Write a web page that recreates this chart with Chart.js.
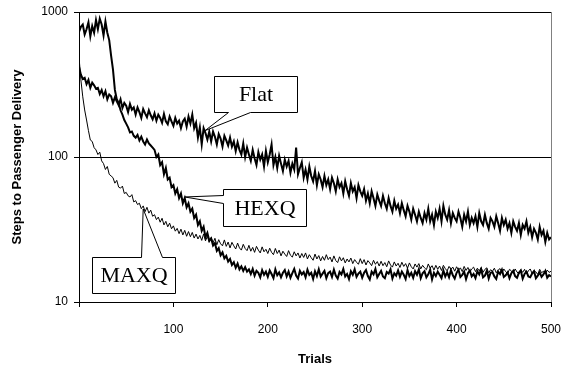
<!DOCTYPE html>
<html>
<head>
<meta charset="utf-8">
<script src="https://cdn.jsdelivr.net/npm/chart.js"></script>
<style>
  body { margin: 0; background: #fff; }
</style>
</head>
<body>
<canvas id="taxiChart" width="571" height="367"></canvas>
<script>
// trials are sampled every 2 steps, 0..500 (251 points per series)
var trials = [];
for (var i = 0; i <= 250; i++) trials.push(i * 2);

var xTicks = [0, 100, 200, 300, 400, 500];
var yTicks = [10, 100, 1000];

var flat = [
  420, 370, 345, 352, 318, 340, 300, 326, 312, 296,
  300, 272, 290, 262, 284, 250, 270, 262, 236, 258,
  242, 228, 250, 218, 236, 226, 204, 232, 212, 220,
  196, 220, 204, 186, 214, 200, 188, 210, 194, 182,
  200, 178, 196, 186, 172, 198, 176, 168, 190, 176,
  164, 186, 170, 178, 158, 176, 184, 162, 190, 170,
  196, 158, 172, 136, 160, 122, 158, 146, 132, 150,
  128, 150, 138, 122, 144, 134, 118, 140, 130, 120,
  136, 118, 128, 110, 126, 112, 104, 124, 100, 116,
  104, 94, 112, 98, 88, 108, 96, 104, 86, 110,
  92, 104, 122, 88, 100, 84, 102, 90, 80, 96,
  86, 94, 78, 90, 82, 116, 76, 84, 92, 72,
  82, 70, 86, 74, 68, 80, 64, 76, 70, 62,
  74, 64, 70, 60, 72, 66, 58, 70, 62, 66,
  56, 68, 60, 54, 66, 58, 62, 52, 64, 58,
  54, 60, 50, 56, 48, 58, 52, 46, 55, 50,
  46, 54, 48, 44, 52, 46, 42, 50, 44, 47,
  41, 48, 43, 39, 46, 42, 37, 44, 40, 36,
  42, 38, 35, 41, 37, 44, 36, 40, 34, 42,
  38, 44, 36, 46, 40, 37, 43, 35, 41, 38,
  36, 42, 38, 33, 40, 36, 42, 34, 38, 35,
  39, 33, 41, 36, 34, 40, 35, 32, 38, 36,
  33, 39, 35, 31, 38, 34, 37, 32, 35, 30,
  36, 33, 31, 35, 29, 34, 32, 36, 30, 33,
  28, 32, 30, 27, 33, 29, 31, 26, 30, 27,
  28];

var hexq = [
  730, 790, 820, 700, 760, 850, 680, 800, 720, 880,
  760, 900, 820, 690, 860, 720, 640, 500, 400, 290,
  250, 236, 210, 196, 180, 170, 160, 148, 150, 140,
  136, 142, 130, 138, 128, 122, 132, 124, 120, 116,
  112, 100, 104, 88, 92, 76, 84, 70, 72, 62,
  64, 56, 60, 52, 56, 48, 52, 45, 48, 42,
  44, 38, 40, 34, 36, 31, 33, 28, 30, 26.5,
  27.5, 24.5, 25.5, 22.5, 23.5, 21, 22, 20, 20.8, 19,
  19.8, 18, 18.8, 17.2, 18.4, 16.8, 17.6, 16.4, 17.4, 16.2,
  16.8, 15.6, 16.9, 15.2, 16.4, 15.9, 14.8, 16.6, 15.4, 16.2,
  14.9, 16.5, 15.6, 14.6, 16.8, 15.3, 16.0, 14.8, 15.9, 16.6,
  15.0, 16.2, 14.7, 15.8, 16.9, 15.2, 14.5, 16.4, 15.5, 16.1,
  14.8, 16.7, 15.4, 15.9, 14.4, 16.3, 15.1, 16.8, 15.0, 15.7,
  16.4, 14.6, 15.8, 16.2, 14.9, 16.7, 15.2, 14.5, 16.1, 15.5,
  16.9, 15.0, 15.6, 14.4, 16.3, 15.4, 16.8, 14.9, 15.7, 16.2,
  14.7, 15.9, 16.6, 15.1, 14.3, 16.2, 15.5, 16.9, 14.8, 15.6,
  16.4, 15.0, 14.6, 16.1, 15.7, 16.8, 14.5, 15.8, 15.2, 16.5,
  14.9, 16.2, 15.4, 14.4, 16.6, 15.1, 15.9, 14.7, 16.3, 15.4,
  16.8, 14.6, 15.8, 16.3, 14.8, 15.5, 16.7, 14.3, 15.9, 15.1,
  16.2, 15.4, 14.6, 16.5, 15.0, 16.0, 14.8, 16.6, 15.3, 14.5,
  15.9, 16.7, 14.9, 15.4, 16.2, 14.4, 15.8, 16.5, 15.0, 15.6,
  14.6, 16.3, 15.5, 16.8, 14.8, 15.2, 16.4, 14.5, 15.9, 16.1,
  15.0, 14.4, 16.2, 15.6, 16.7, 14.9, 15.3, 16.0, 14.6, 15.8,
  16.4, 15.1, 14.7, 15.9, 16.5, 14.5, 15.6, 16.2, 15.0, 14.8,
  15.7, 16.3, 14.6, 15.2, 16.0, 14.9, 15.5, 16.4, 14.7, 15.3,
  15.0];

var maxq = [
  490, 340, 260, 211, 180, 152, 131, 128, 116, 112,
  104, 108, 94, 90, 82, 86, 76, 74, 72, 66,
  69, 62, 61, 63, 56, 57, 54, 53, 55, 49,
  50, 47, 48, 44, 46, 42, 45, 41, 43, 39,
  40, 37, 38.5, 35.5, 37.8, 34, 36, 33, 35, 32,
  33.5, 30.8, 32.2, 29.6, 31.8, 29, 31.2, 28.4, 30.6, 28.2,
  30.2, 27.6, 29.4, 27.2, 28.8, 26.6, 29.5, 26.4, 28.4, 25.8,
  27.8, 25.6, 27.5, 24.8, 26.9, 25.2, 24.4, 26.8, 24.2, 25.9,
  23.6, 25.8, 24.4, 23.2, 25.5, 23.6, 22.8, 25, 23.4, 22.6,
  24.6, 22.4, 23.8, 22, 24.2, 22.8, 21.8, 24, 22.2, 23.1,
  21.6, 23.5, 22, 21.2, 23.4, 21.6, 22.8, 20.8, 22.4, 21.4,
  20.6, 22.6, 21, 20.4, 22.2, 20.8, 21.8, 20.1, 21.6, 20.3,
  21.8, 19.8, 21.2, 20.2, 19.4, 21.4, 19.8, 20.9, 19.2, 20.6,
  19.4, 21.2, 19.6, 20.4, 18.9, 20.8, 19.3, 18.7, 20.5, 19.2,
  20.2, 18.6, 19.8, 18.9, 20.1, 18.4, 19.6, 18.8, 18.2, 19.9,
  18.4, 19.6, 18, 19.3, 18.6, 17.8, 19.4, 18.2, 19, 17.7,
  19.1, 17.8, 18.7, 17.5, 19.2, 18, 17.4, 18.9, 17.7, 18.5,
  17.3, 18.8, 17.6, 18.4, 17.1, 18.6, 17.5, 16.9, 18.3, 17.4,
  18.4, 16.9, 17.9, 17.2, 16.7, 18.3, 17.1, 17.8, 16.6, 17.9,
  16.8, 17.7, 16.5, 17.9, 17, 16.4, 17.6, 16.8, 17.4, 16.3,
  17.5, 16.6, 17.2, 16.2, 17.6, 16.5, 17.3, 16.1, 16.9, 17.4,
  16.2, 17.1, 16.4, 17.3, 16, 16.8, 17.2, 15.9, 16.7, 16.3,
  17.1, 15.9, 16.6, 17, 15.8, 16.9, 16.2, 15.7, 16.8, 16.4,
  15.8, 16.9, 16.1, 15.6, 16.7, 16, 16.8, 15.6, 16.4, 16.9,
  15.7, 16.5, 16.1, 15.5, 16.8, 15.9, 16.3, 15.6, 16.6, 16,
  16.3];

// callout boxes: tip and box centre given in data units
var notes = [
  { text: 'Flat', tip: [133.5, 152], box: [187, 272], w: 83, h: 36, side: 'bottom', base: [14, 36] },
  { text: 'HEXQ', tip: [112, 53], box: [196.5, 44.9], w: 83, h: 37, side: 'left', base: [6, 14] },
  { text: 'MAXQ', tip: [68, 43.8], box: [57.7, 15.4], w: 83, h: 36, side: 'top', base: [49, 70] }
];

function toPoints(arr) {
  return trials.map(function (t, i) { return { x: t, y: arr[i] }; });
}

var calloutPlugin = {
  id: 'callouts',
  afterDatasetsDraw: function (chart) {
    var ctx = chart.ctx;
    var xs = chart.scales.x, ys = chart.scales.y;
    ctx.save();
    notes.forEach(function (n) {
      var tx = xs.getPixelForValue(n.tip[0]);
      var ty = ys.getPixelForValue(n.tip[1]);
      var cx = xs.getPixelForValue(n.box[0]);
      var cy = ys.getPixelForValue(n.box[1]);
      var l = Math.round(cx - n.w / 2) + 0.5, t = Math.round(cy - n.h / 2) + 0.5;
      var r = l + n.w, b = t + n.h;
      ctx.beginPath();
      if (n.side === 'bottom') {
        ctx.moveTo(l, t); ctx.lineTo(r, t); ctx.lineTo(r, b);
        ctx.lineTo(l + n.base[1], b); ctx.lineTo(tx, ty); ctx.lineTo(l + n.base[0], b);
        ctx.lineTo(l, b);
      } else if (n.side === 'left') {
        ctx.moveTo(l, t); ctx.lineTo(r, t); ctx.lineTo(r, b); ctx.lineTo(l, b);
        ctx.lineTo(l, t + n.base[1]); ctx.lineTo(tx, ty); ctx.lineTo(l, t + n.base[0]);
      } else {
        ctx.moveTo(l, t); ctx.lineTo(l + n.base[0], t); ctx.lineTo(tx, ty);
        ctx.lineTo(l + n.base[1], t); ctx.lineTo(r, t); ctx.lineTo(r, b); ctx.lineTo(l, b);
      }
      ctx.closePath();
      ctx.fillStyle = '#fff';
      ctx.fill();
      ctx.strokeStyle = '#000';
      ctx.lineWidth = 1;
      ctx.stroke();
      ctx.fillStyle = '#000';
      ctx.font = '22px "Liberation Serif", "Times New Roman", serif';
      ctx.textAlign = 'center';
      ctx.textBaseline = 'middle';
      ctx.fillText(n.text, (l + r) / 2, (t + b) / 2 + 1);
    });
    ctx.restore();
  }
};

new Chart(document.getElementById('taxiChart'), {
  type: 'line',
  data: {
    datasets: [
      { label: 'Flat', data: toPoints(flat), borderColor: '#000', borderWidth: 2 },
      { label: 'HEXQ', data: toPoints(hexq), borderColor: '#000', borderWidth: 2 },
      { label: 'MAXQ', data: toPoints(maxq), borderColor: '#000', borderWidth: 1 }
    ]
  },
  options: {
    responsive: false,
    animation: false,
    layout: { padding: { top: 12, right: 20, left: 0, bottom: 0 } },
    elements: { point: { radius: 0 }, line: { tension: 0 } },
    plugins: { legend: { display: false }, tooltip: { enabled: false } },
    scales: {
      x: {
        type: 'linear',
        min: 0,
        max: 500,
        afterBuildTicks: function (s) { s.ticks = xTicks.map(function (v) { return { value: v }; }); },
        afterFit: function (s) { s.height = 65; s.paddingLeft = 0; s.paddingRight = 0; },
        ticks: {
          color: '#000',
          padding: 15,
          maxRotation: 0,
          font: { family: '"Liberation Sans", Arial, sans-serif', size: 12 },
          callback: function (v) { return v === 0 ? '' : String(v); }
        },
        grid: {
          color: function (c) { return c.tick && c.tick.value === 500 ? '#808080' : 'rgba(0,0,0,0)'; },
          tickColor: '#000',
          tickLength: 5
        },
        border: { color: '#000', width: 1 },
        title: {
          display: true,
          text: 'Trials',
          color: '#000',
          padding: { top: 0, bottom: 0 },
          font: { family: '"Liberation Sans", Arial, sans-serif', size: 13, weight: 'bold' }
        }
      },
      y: {
        type: 'logarithmic',
        min: 10,
        max: 1000,
        afterBuildTicks: function (s) { s.ticks = yTicks.map(function (v) { return { value: v }; }); },
        afterFit: function (s) { s.width = 79; s.paddingTop = 0; s.paddingBottom = 0; },
        ticks: {
          color: '#000',
          padding: 6,
          font: { family: '"Liberation Sans", Arial, sans-serif', size: 12 },
          callback: function (v) { return String(v); }
        },
        grid: { color: '#000', tickColor: '#000', tickLength: 5 },
        border: { color: '#000', width: 1 },
        title: {
          display: true,
          text: 'Steps to Passenger Delivery',
          color: '#000',
          padding: { top: 10, bottom: 0 },
          font: { family: '"Liberation Sans", Arial, sans-serif', size: 13, weight: 'bold' }
        }
      }
    }
  },
  plugins: [calloutPlugin]
});
</script>
</body>
</html>
